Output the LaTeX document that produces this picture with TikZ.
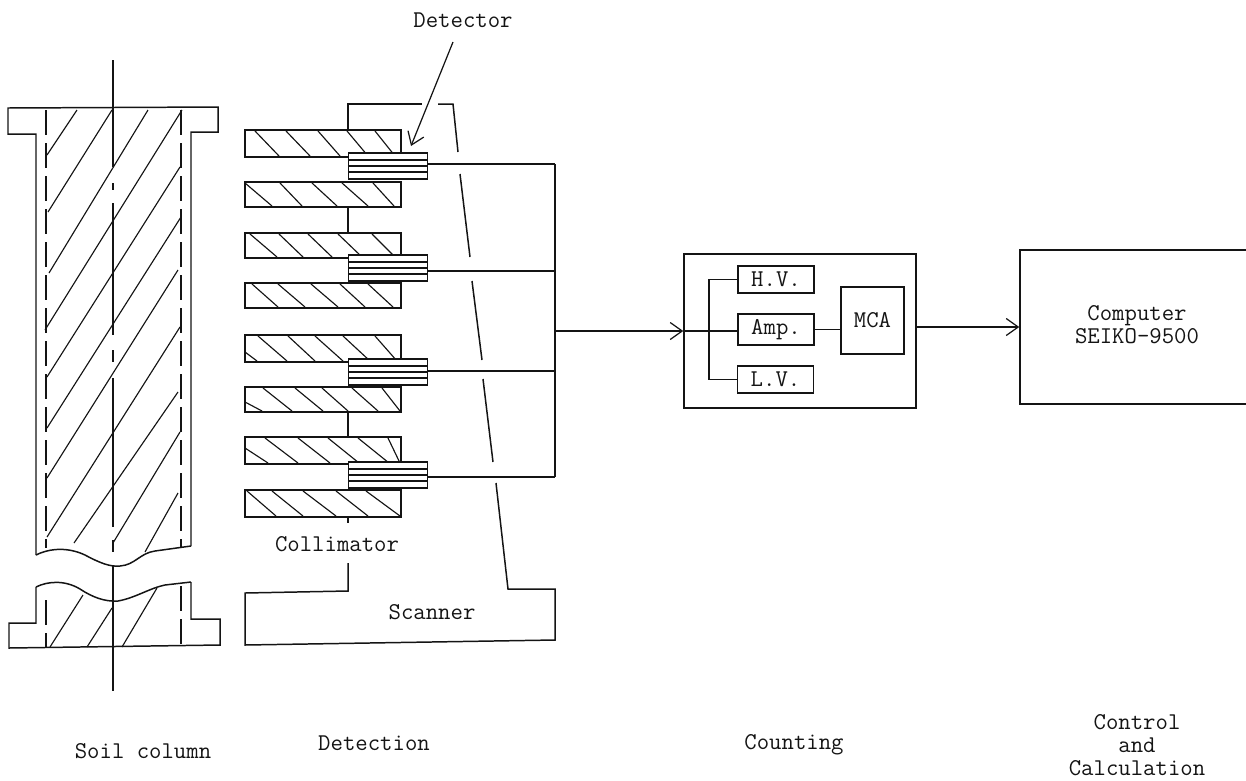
\documentclass[tikz,border=0pt]{standalone}
\usepackage{xcolor}
\usepackage{tikz}
\usetikzlibrary{arrows.meta, positioning, calc}
\definecolor{myink}{RGB}{20,20,20}
\tikzset{
  outline/.style={color=myink, line width=0.85pt},
  hatch/.style={color=myink, line width=0.65pt},
  wall/.style={color=myink, line width=0.7pt, dash pattern=on 5mm off 1.6mm},
  arrow/.style={-{Straight Barb[length=2.4mm,width=3.4mm]}, color=myink, line width=0.7pt},
  label/.style={font=\fontsize{13.7}{13.2}\selectfont\ttfamily, text=myink, align=center, inner sep=0pt},
  detbox/.style={rectangle, draw=myink, line width=0.85pt, minimum width=15.8mm, minimum height=5.2mm, inner sep=0pt},
  unitbox/.style={rectangle, draw=myink, line width=0.85pt, minimum width=15.2mm, inner sep=0pt,
    font=\fontsize{13.7}{13.2}\selectfont\ttfamily, text=myink}
}
\begin{document}
\begin{tikzpicture}[x=0.2mm, y=-0.2mm]
  \useasboundingbox (0,0) rectangle (1246,780);

  % Soil column, upper part
  \draw[outline] (36,555) -- (36,134) -- (8,134) -- (8,108) -- (218,107) -- (218,132) -- (191,132) -- (191,546);
  \draw[outline] (36,555) .. controls (50,548) and (68,547) .. (85,555)
    .. controls (100,563) and (110,567) .. (120,566)
    .. controls (135,565) and (140,553) .. (155,551) -- (191,546);

  % Soil column, lower part
  \draw[outline] (36,587) .. controls (48,581) and (65,580) .. (80,589)
    .. controls (92,597) and (105,602) .. (118,601)
    .. controls (135,598) and (150,588) .. (165,585) -- (191,582);
  \draw[outline] (36,587) -- (36,623) -- (9,623) -- (9,648) -- (220,645) -- (220,619) -- (191,619) -- (191,582);

  % Axis
  \foreach \ya/\yb in {60/167, 183/190, 203/335, 350/362, 378/527, 540/552, 566/691}
    \draw[hatch] (113,\ya) -- (113,\yb);

  % Inner walls
  \draw[wall] (46,110) -- (46,548);
  \draw[wall] (181,110) -- (181,548);
  \draw[wall] (46,600) -- (46,647);
  \draw[wall] (181,586) -- (181,645);

  % Soil hatching
  \foreach \xa/\ya/\xb/\yb in {77/110/47/155, 112/110/48/212, 148/110/49/273, 182/110/45/330,
      180/167/47/377, 181/217/47/428, 178/270/47/478, 180/327/47/537,
      178/392/74/543, 180/432/113/543, 178/493/145/552,
      83/595/50/647, 112/608/87/647, 157/588/122/647}
    \draw[hatch] (\xa,\ya) -- (\xb,\yb);

  % Scanner
  \draw[outline] (348,130) -- (348,104) -- (422,104);
  \draw[outline] (438,104) -- (453,104) -- (458,152);
  \draw[outline] (460,174) -- (470,257);
  \draw[outline] (472,281) -- (482,360);
  \draw[outline] (483,379) -- (493,462);
  \draw[outline] (496,483) -- (508,589) -- (555,589) -- (555,640) -- (245,645) -- (245,593) -- (348,591) -- (348,563);
  \foreach \ya/\yb in {207/233, 412/437, 517/523}
    \draw[outline] (348,\ya) -- (348,\yb);
  \node[label] (scanner) at (432,612) {Scanner};

  % Collimator plates
  \foreach \ya/\yb in {130/157, 182/207, 233/258, 283/308, 335/362, 387/412, 437/464, 490/517}
    \draw[outline] (245,\ya) rectangle (401,\yb);
  \foreach \xa/\xb in {255/279, 286/310, 318/340, 347/368, 375/395}
    \draw[hatch] (\xa,131) -- (\xb,156);
  \foreach \xa/\xb in {245/272, 280/302, 312/337, 342/368, 373/394}
    \draw[hatch] (\xa,183) -- (\xb,206);
  \foreach \xa/\xb in {250/277, 279/303, 308/332, 338/362, 372/395}
    \draw[hatch] (\xa,234) -- (\xb,257);
  \foreach \xa/\xb in {252/278, 278/305, 311/338, 340/365, 368/393}
    \draw[hatch] (\xa,284) -- (\xb,307);
  \foreach \xa/\xb in {258/287, 288/315, 315/343, 343/370, 375/397}
    \draw[hatch] (\xa,336) -- (\xb,361);
  \foreach \xa/\xb in {263/292, 295/323, 322/348, 352/378, 382/400}
    \draw[hatch] (\xa,388) -- (\xb,411);
  \foreach \xa/\xb in {265/298, 298/330, 328/359, 358/389, 388/400}
    \draw[hatch] (\xa,438) -- (\xb,463);
  \foreach \xa/\xb in {247/276, 272/303, 303/336, 336/368, 366/400}
    \draw[hatch] (\xa,491) -- (\xb,516);
  \draw[hatch] (245,352) -- (257,361);
  \draw[hatch] (245,402) -- (262,411);
  \draw[hatch] (245,448) -- (268,463);
  \node[label] (collimator) at (337,544) {Collimator};

  % Detectors
  \foreach \n/\yc in {1/166, 2/268, 3/372, 4/475} {
    \node[detbox, fill=white] (det\n) at (388,\yc) {};
    \foreach \dy in {-6, 0, 6}
      \draw[hatch] ($(det\n.west)+(0,\dy)$) -- ($(det\n.east)+(0,\dy)$);
  }
  \node[label] (detlabel) at (463,20) {Detector};
  \coordinate (dettail) at (453,42);
  \coordinate (dettip) at (411,146);
  \draw[arrow] (dettail) -- (dettip);

  % Bus to the counting unit
  \coordinate (busmid) at (555,331);
  \foreach \n/\dl in {1/-2, 2/3, 3/-1, 4/2}
    \draw[outline] ($(det\n.east)+(0,\dl)$) -- ($(det\n.east -| busmid)+(0,\dl)$);
  \draw[outline] ($(det1.east -| busmid)+(0,-2)$) -- ($(det4.east -| busmid)+(0,2)$);

  % Counting
  \node[rectangle, draw=myink, line width=0.85pt, minimum width=46.4mm, minimum height=30.8mm, inner sep=0pt] (counter) at (800,331) {};
  \node[unitbox, minimum height=5.4mm] (hv) at (776,279.5) {H.V.};
  \node[unitbox, minimum height=6.2mm] (amp) at (776,329.5) {Amp.};
  \node[unitbox, minimum height=5.4mm] (lv) at (775.5,379.5) {L.V.};
  \node[unitbox, minimum width=12.6mm, minimum height=13.4mm] (mca) at (872.5,320.5) {MCA};
  \coordinate (brk) at (709,330);
  \draw[outline] (hv.west) -- (hv.west -| brk) -- (lv.west -| brk) -- (lv.west);
  \draw[arrow] (busmid) -- (counter.west);
  \draw[outline] (counter.west) -- (counter.west -| amp.west);
  \draw[outline] (amp.east) -- (amp.east -| mca.west);

  % Computer, running off the right edge
  \node[rectangle, draw=myink, line width=0.85pt, minimum width=47mm, minimum height=30.8mm, inner sep=0pt] (computer) at (1137.5,327) {};
  \node[label] (comptext) at (1137,325) {Computer\\SEIKO-9500};
  \coordinate (outmid) at (916,327);
  \draw[arrow] (outmid) -- (computer.west);

  % Stage names
  \node[label] (soil) at (143,751) {Soil column};
  \node[label] (detection) at (374,743) {Detection};
  \node[label] (counting) at (794,745) {Counting};
  \node[label] (control) at (1137,745) {Control\\and\\Calculation};
\end{tikzpicture}
\end{document}
